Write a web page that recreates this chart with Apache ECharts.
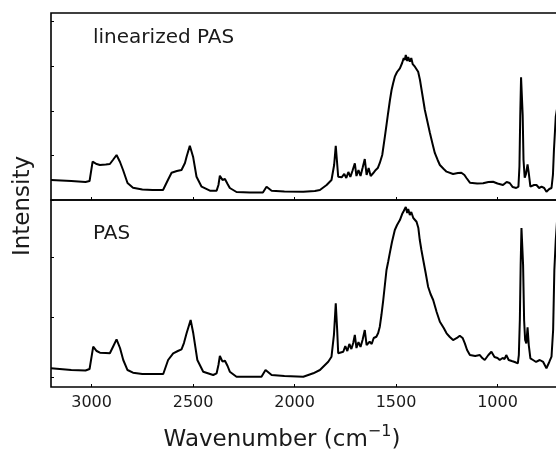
<!DOCTYPE html>
<html>
<head>
<meta charset="utf-8">
<script src="https://cdn.jsdelivr.net/npm/echarts@6/dist/echarts.min.js"></script>
<style>
html,body{margin:0;padding:0;background:#fff;overflow:hidden;width:556px;height:451px;}
#c{width:600px;height:451px;}
</style>
</head>
<body>
<div id="c"></div>
<script>
// wavenumber ticks
const xTicks = [500, 1000, 1500, 2000, 2500, 3000];
// top panel: linearized PAS
const topWn = [3200,3100,3030,3010,2995,2975,2959,2930,2910,2895,2877,2860,2845,2823,2796,2750,2700,2648,2624,2606,2580,2557,2540,2532,2516,2500,2483,2458,2417,2384,2375,2368,2355,2343,2330,2319,2286,2220,2156,2138,2113,2050,1957,1900,1875,1842,1818,1805,1797,1785,1768,1755,1745,1735,1725,1715,1703,1695,1685,1675,1665,1654,1645,1635,1625,1613,1600,1590,1580,1568,1555,1547,1539,1530,1522,1514,1506,1495,1481,1470,1462,1457,1452,1445,1440,1432,1425,1418,1407,1391,1382,1374,1358,1345,1333,1320,1309,1295,1284,1265,1251,1219,1195,1178,1163,1153,1136,1100,1071,1045,1022,1000,973,955,940,925,908,897,892,888,884,880,876,872,866,860,852,846,838,820,808,795,783,770,759,745,734,727,722,713,700];
const topI = [0.448,0.426,0.404,0.426,0.859,0.807,0.785,0.796,0.807,0.897,1.009,0.852,0.673,0.381,0.276,0.235,0.224,0.224,0.448,0.612,0.650,0.673,0.830,0.971,1.217,0.971,0.522,0.298,0.209,0.209,0.336,0.545,0.448,0.471,0.359,0.269,0.179,0.168,0.168,0.298,0.209,0.191,0.186,0.202,0.224,0.336,0.448,0.785,1.217,0.522,0.509,0.583,0.493,0.628,0.516,0.650,0.823,0.538,0.673,0.538,0.717,0.919,0.561,0.717,0.538,0.599,0.673,0.717,0.830,1.009,1.419,1.682,1.951,2.242,2.466,2.623,2.765,2.870,2.953,3.072,3.184,3.139,3.251,3.117,3.206,3.101,3.184,3.049,2.989,2.877,2.691,2.466,2.018,1.749,1.502,1.256,1.054,0.897,0.785,0.695,0.635,0.583,0.605,0.612,0.561,0.493,0.388,0.370,0.374,0.404,0.410,0.370,0.336,0.404,0.381,0.291,0.269,0.30,0.75,1.9,2.75,2.78,1.9,0.9,0.5,0.58,0.8,0.6,0.3,0.336,0.336,0.269,0.298,0.269,0.186,0.247,0.269,0.561,1.121,1.868,2.24];
// bottom panel: PAS
const botWn = [3200,3100,3030,3010,2992,2975,2959,2930,2910,2895,2877,2860,2844,2823,2796,2750,2700,2647,2623,2598,2575,2557,2545,2532,2512,2499,2479,2450,2401,2384,2375,2368,2355,2343,2330,2319,2286,2220,2163,2143,2113,2050,1957,1908,1875,1834,1818,1806,1797,1790,1785,1760,1750,1740,1730,1720,1711,1703,1695,1685,1675,1665,1654,1645,1630,1620,1610,1597,1588,1580,1572,1563,1555,1547,1539,1531,1520,1506,1495,1481,1470,1462,1457,1452,1445,1440,1432,1425,1415,1399,1390,1383,1375,1366,1354,1342,1330,1317,1300,1284,1265,1251,1235,1219,1200,1186,1172,1161,1150,1136,1110,1087,1075,1063,1045,1030,1015,1000,989,975,965,957,945,930,915,900,895,890,886,882,878,874,869,864,858,852,846,838,825,810,792,775,759,745,734,726,720,713,705];
const botI = [1.157,1.128,1.120,1.145,1.517,1.445,1.417,1.412,1.407,1.512,1.640,1.495,1.295,1.128,1.083,1.062,1.062,1.062,1.295,1.407,1.445,1.473,1.578,1.740,1.962,1.740,1.295,1.100,1.045,1.073,1.212,1.362,1.267,1.283,1.195,1.100,1.017,1.017,1.017,1.128,1.045,1.028,1.017,1.073,1.128,1.267,1.350,1.712,2.240,1.795,1.407,1.433,1.528,1.445,1.562,1.478,1.578,1.712,1.495,1.595,1.512,1.628,1.795,1.545,1.600,1.562,1.662,1.683,1.745,1.850,2.045,2.295,2.545,2.795,2.928,3.073,3.262,3.462,3.545,3.628,3.728,3.778,3.795,3.845,3.745,3.812,3.712,3.762,3.662,3.600,3.495,3.295,3.128,2.962,2.745,2.517,2.395,2.295,2.095,1.933,1.828,1.740,1.678,1.628,1.662,1.700,1.662,1.573,1.462,1.378,1.362,1.378,1.328,1.295,1.378,1.433,1.345,1.328,1.295,1.328,1.312,1.378,1.295,1.278,1.262,1.240,1.378,1.962,2.878,3.495,3.495,2.878,1.962,1.628,1.573,1.840,1.545,1.323,1.295,1.262,1.295,1.262,1.157,1.262,1.350,1.795,2.795,3.295,3.7];
const topYTicks = [0, 1, 2, 3, 4];
const botYTicks = [1, 2, 3];
const panelLabels = ['linearized PAS', 'PAS'];

const zip = (a, b) => a.map((v, i) => [v, b[i]]);
const FONT = 'DejaVu Sans';
const TXT = '#1a1a1a';

const chart = echarts.init(document.getElementById('c'), null, {renderer: 'canvas'});

function xAxisCfg(gi, showLabels) {
  return {
    type: 'value', gridIndex: gi, inverse: true, min: 500, max: 3200, interval: 500,
    axisLine: {show: false},
    axisTick: {show: true, inside: true, length: 3, customValues: xTicks, lineStyle: {color: '#000', width: 1}},
    splitLine: {show: false},
    axisLabel: {show: showLabels, customValues: xTicks.filter(v => v >= 1000), color: TXT, fontFamily: FONT, fontSize: 16, margin: 8,
      formatter: v => String(v)}
  };
}
function yAxisCfg(gi, min, max, ticks) {
  return {
    type: 'value', gridIndex: gi, min: min, max: max,
    axisLine: {show: false},
    axisTick: {show: true, inside: true, length: 3, customValues: ticks, lineStyle: {color: '#000', width: 1}},
    splitLine: {show: false},
    axisLabel: {show: false}
  };
}

chart.setOption({
  animation: false,
  grid: [
    {left: 51, width: 548, top: 13, height: 187, show: true, borderColor: '#000', borderWidth: 1.6, backgroundColor: 'transparent', outerBoundsMode: 'none', containLabel: false},
    {left: 51, width: 548, top: 200, height: 187, show: true, borderColor: '#000', borderWidth: 1.6, backgroundColor: 'transparent', outerBoundsMode: 'none', containLabel: false}
  ],
  xAxis: [xAxisCfg(0, false), xAxisCfg(1, true)],
  yAxis: [yAxisCfg(0, 0, 4.193, topYTicks), yAxisCfg(1, 0.845, 3.962, botYTicks)],
  series: [
    {type: 'line', xAxisIndex: 0, yAxisIndex: 0, data: zip(topWn, topI), showSymbol: false,
     lineStyle: {color: '#000', width: 2}, silent: true},
    {type: 'line', xAxisIndex: 1, yAxisIndex: 1, data: zip(botWn, botI), showSymbol: false,
     lineStyle: {color: '#000', width: 2}, silent: true}
  ],
  graphic: [
    {type: 'text', left: 93, top: 28, style: {text: panelLabels[0], fill: TXT, font: '20px "DejaVu Sans"'}},
    {type: 'text', left: 93, top: 224, style: {text: panelLabels[1], fill: TXT, font: '20px "DejaVu Sans"'}},
    {type: 'text', x: 23, y: 206, rotation: Math.PI / 2,
     style: {text: 'Intensity', fill: TXT, font: '23px "DejaVu Sans"', align: 'center', verticalAlign: 'middle'}},
    {type: 'text', x: 282, y: 438,
     style: {text: '{a|Wavenumber (cm}{s|−1}{a|)}', align: 'center', verticalAlign: 'middle',
       rich: {
         a: {fontFamily: FONT, fontSize: 23, fill: TXT, color: TXT, lineHeight: 28, verticalAlign: 'bottom'},
         s: {fontFamily: FONT, fontSize: 16, fill: TXT, color: TXT, lineHeight: 28, verticalAlign: 'top'}
       }}}
  ]
});
</script>
</body>
</html>
